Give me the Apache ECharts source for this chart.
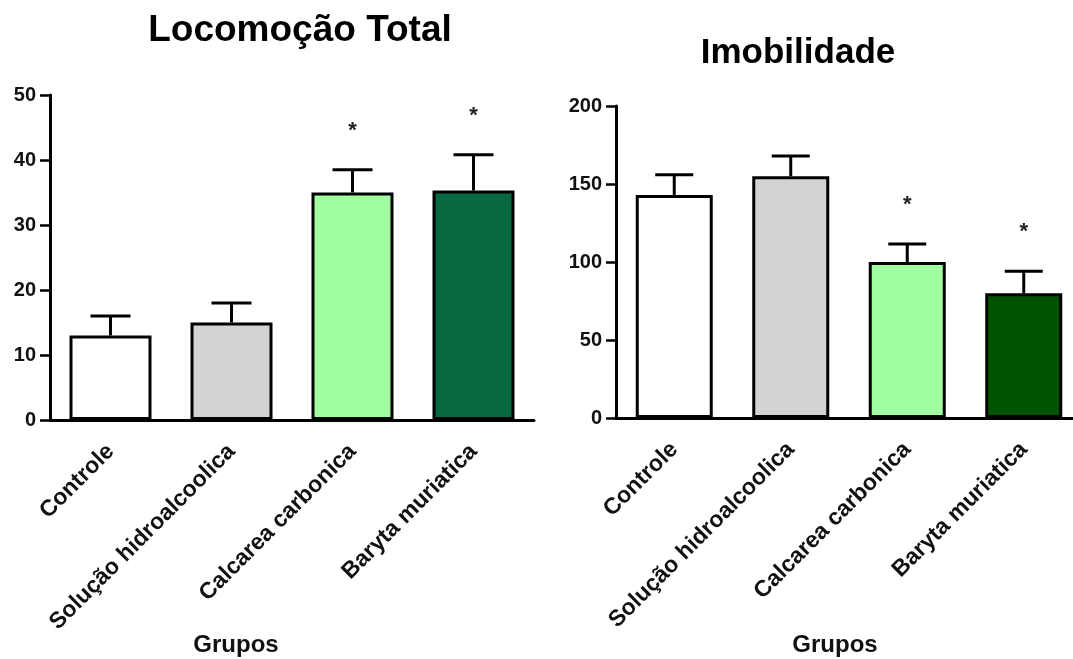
<!DOCTYPE html>
<html>
<head>
<meta charset="utf-8">
<script src="https://cdn.jsdelivr.net/npm/echarts@6/dist/echarts.min.js"></script>
<style>
  html, body { margin: 0; padding: 0; background: #fff; }
  #chart { width: 1073px; height: 659px; }
</style>
</head>
<body>
<div id="chart"></div>
<script>
// Grupos experimentais
const categories = ['Controle', 'Solução hidroalcoolica', 'Calcarea carbonica', 'Baryta muriatica'];

// Locomoção total: média e erro padrão
const locoMean = [13, 15, 35, 35.3];
const locoErr = [3, 3, 3.5, 5.5];
const locoTicks = [0, 10, 20, 30, 40, 50];

// Imobilidade: média e erro padrão
const imobMean = [143, 155, 100, 80];
const imobErr = [13, 13, 11.5, 14];
const imobTicks = [0, 50, 100, 150, 200];

// Diferença significativa em relação ao controle (*)
const signif = [false, false, true, true];

const locoColors = ['#ffffff', '#d3d3d3', '#a0ffa0', '#07683f'];
const imobColors = ['#ffffff', '#d3d3d3', '#a0ffa0', '#005400'];

const FONT = '"Liberation Sans", Arial, sans-serif';

function errorSeries(axisIdx, mean, err, capHalf) {
  return {
    type: 'custom',
    xAxisIndex: axisIdx,
    yAxisIndex: axisIdx,
    z: 1,
    data: mean.map((m, i) => [i, m, m + err[i], signif[i] ? 1 : 0]),
    renderItem: function (params, api) {
      const base = api.coord([api.value(0), api.value(1)]);
      const top = api.coord([api.value(0), api.value(2)]);
      const style = { stroke: '#000', lineWidth: 3 };
      const children = [
        { type: 'line', shape: { x1: base[0], y1: base[1], x2: top[0], y2: top[1] }, style: style },
        { type: 'line', shape: { x1: top[0] - capHalf, y1: top[1], x2: top[0] + capHalf, y2: top[1] }, style: style }
      ];
      if (api.value(3)) {
        children.push({
          type: 'text',
          style: {
            text: '*', x: top[0], y: top[1] - 39,
            fill: '#222', font: 'bold 22px ' + FONT,
            align: 'center', verticalAlign: 'middle'
          }
        });
      }
      return { type: 'group', children: children };
    }
  };
}

function barSeries(axisIdx, mean, colors, width) {
  return {
    type: 'bar',
    xAxisIndex: axisIdx,
    yAxisIndex: axisIdx,
    barWidth: width,
    z: 2,
    data: mean.map((v, i) => ({
      value: v,
      itemStyle: { color: colors[i], borderColor: '#000', borderWidth: 3 }
    }))
  };
}

function xAxisCfg(gridIdx) {
  return {
    type: 'category',
    gridIndex: gridIdx,
    data: categories,
    boundaryGap: true,
    axisLine: { lineStyle: { color: '#000', width: 3 } },
    axisTick: { alignWithLabel: true, length: 9, lineStyle: { color: '#000', width: 2.5 } },
    axisLabel: { rotate: 45, margin: 28, color: '#111', fontFamily: FONT, fontWeight: 'bold', fontSize: 23, interval: 0 }
  };
}

function yAxisCfg(gridIdx, ticks) {
  return {
    type: 'value',
    gridIndex: gridIdx,
    min: ticks[0],
    max: ticks[ticks.length - 1],
    interval: ticks[1] - ticks[0],
    axisLine: { show: true, lineStyle: { color: '#000', width: 3 } },
    axisTick: { show: true, length: 10, lineStyle: { color: '#000', width: 2.5 } },
    splitLine: { show: false },
    axisLabel: { margin: 14, color: '#111', fontFamily: FONT, fontWeight: 'bold', fontSize: 20 }
  };
}

const axisTitleStyle = { fontFamily: FONT, fontWeight: 'bold', fontSize: 24, color: '#111' };

const chart = echarts.init(document.getElementById('chart'), null, { renderer: 'canvas' });
chart.setOption({
  backgroundColor: '#fff',
  animation: false,
  title: [
    { text: 'Locomoção Total', left: 295, top: 7, textAlign: 'center',
      textStyle: { fontFamily: FONT, fontWeight: 'bold', fontSize: 37, color: '#000' } },
    { text: 'Imobilidade', left: 793, top: 31, textAlign: 'center',
      textStyle: { fontFamily: FONT, fontWeight: 'bold', fontSize: 35, color: '#000' } },
    { text: 'Grupos', left: 231, top: 628, textAlign: 'center', textStyle: axisTitleStyle },
    { text: 'Grupos', left: 830, top: 628, textAlign: 'center', textStyle: axisTitleStyle }
  ],
  grid: [
    { left: 50, top: 95, width: 484, height: 325, outerBoundsMode: 'none' },
    { left: 616, top: 106, width: 466, height: 312, outerBoundsMode: 'none' }
  ],
  xAxis: [xAxisCfg(0), xAxisCfg(1)],
  yAxis: [yAxisCfg(0, locoTicks), yAxisCfg(1, imobTicks)],
  series: [
    barSeries(0, locoMean, locoColors, 82),
    errorSeries(0, locoMean, locoErr, 20),
    barSeries(1, imobMean, imobColors, 77),
    errorSeries(1, imobMean, imobErr, 19)
  ]
});
</script>
</body>
</html>
